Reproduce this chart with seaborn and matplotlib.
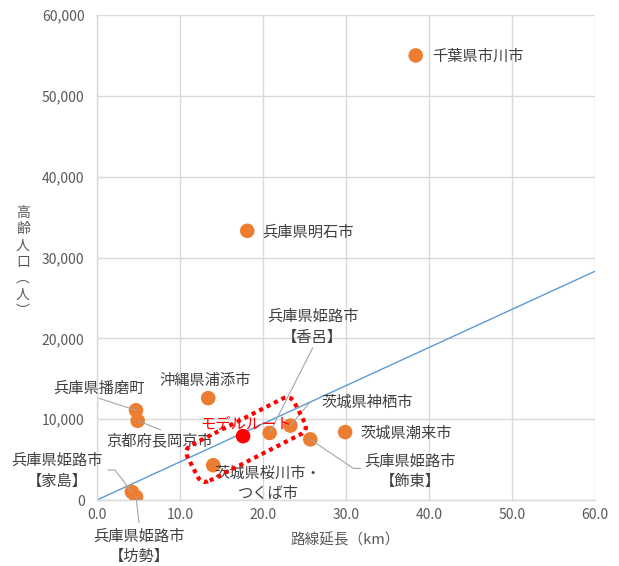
import matplotlib
matplotlib.use("Agg")
import numpy as np
import pandas as pd
import seaborn as sns
import matplotlib.pyplot as plt
from matplotlib.lines import Line2D
from matplotlib.patches import FancyBboxPatch
from matplotlib.transforms import Affine2D, ScaledTranslation

# ---------------- data ----------------
names = ["千葉県市川市", "兵庫県明石市", "沖縄県浦添市", "兵庫県播磨町", "京都府長岡京市",
         "兵庫県姫路市\n【家島】", "兵庫県姫路市\n【坊勢】", "兵庫県姫路市\n【香呂】",
         "茨城県神栖市", "兵庫県姫路市\n【飾東】", "茨城県潮来市", "茨城県桜川市・\nつくば市"]
route_km = [38.4, 18.1, 13.4, 4.7, 4.9, 4.2, 4.7, 20.8, 23.3, 25.7, 29.9, 14.0]
elderly = [55000, 33300, 12600, 11100, 9800, 1000, 400, 8300, 9200, 7500, 8400, 4300]

model_name = "モデルルート"
model_km = [17.6]
model_elderly = [7900]

trend_km = [0.0, 60.0]
trend_elderly = [0, 28300]

x_ticks = [0, 10, 20, 30, 40, 50, 60]
x_tick_labels = ["0.0", "10.0", "20.0", "30.0", "40.0", "50.0", "60.0"]
y_ticks = [0, 10000, 20000, 30000, 40000, 50000, 60000]
y_tick_labels = ["0", "10,000", "20,000", "30,000", "40,000", "50,000", "60,000"]

x_title = "路線延長（km）"
y_title = "高齢人口（人）"

df = pd.DataFrame({"name": names, "km": route_km, "elderly": elderly})
df_model = pd.DataFrame({"name": [model_name], "km": model_km, "elderly": model_elderly})

# ---------------- style ----------------
sns.set_theme(style="white")
plt.rcParams["font.family"] = ["Noto Sans CJK JP", "DejaVu Sans"]

W, H, DPI = 619, 566, 100
fig = plt.figure(figsize=(W / DPI, H / DPI), dpi=DPI)
ax = fig.add_axes([97 / W, 1 - 500 / H, (595 - 97) / W, (500 - 15) / H])

grid_c = "#d9d9d9"
text_c = "#404040"
tick_c = "#595959"
lead_c = "#a6a6a6"

ax.set_xlim(0, 60)
ax.set_ylim(0, 60000)
ax.set_xticks(x_ticks)
ax.set_xticklabels(x_tick_labels)
ax.set_yticks(y_ticks)
ax.set_yticklabels(y_tick_labels)
ax.grid(True, color=grid_c, lw=1.0)
ax.set_axisbelow(True)
for s in ["top", "right"]:
    ax.spines[s].set_visible(False)
for s in ["left", "bottom"]:
    ax.spines[s].set_color(grid_c)
    ax.spines[s].set_linewidth(1.0)
ax.tick_params(axis="both", length=0, labelsize=10, colors=tick_c)
ax.tick_params(axis="x", pad=6)
ax.tick_params(axis="y", pad=9)

# trend line
ax.plot(trend_km, trend_elderly, color="#5B9BD5", lw=1.0, zorder=2)

# points
sns.scatterplot(data=df, x="km", y="elderly", ax=ax, color="#ED7D31", s=110,
                edgecolor="none", zorder=3, legend=False)
sns.scatterplot(data=df_model, x="km", y="elderly", ax=ax, color="#FF0000", s=110,
                edgecolor="none", zorder=3, legend=False)

ax.set_xlabel("")
ax.set_ylabel("")

# ---------------- labels (offsets in pixels relative to each point) ----------------
label_layout = {
    "千葉県市川市": ((16, -1), "left", []),
    "兵庫県明石市": ((15, -1), "left", []),
    "沖縄県浦添市": ((-3, 18), "center", []),
    "兵庫県播磨町": ((-37, 22), "center", [[(-37, 12), (0, 0)]]),
    "京都府長岡京市": ((22, -20), "center", [[(23, -9), (0, 0)]]),
    "兵庫県姫路市\n【家島】": ((-75, 21), "center", [[(-24, 22), (-17, 22), (0, 0)]]),
    "兵庫県姫路市\n【坊勢】": ((3, -50), "center", [[(3, -26), (0, 0)]]),
    "兵庫県姫路市\n【香呂】": ((43, 106), "center", [[(43, 85), (0, 0)]]),
    "茨城県神栖市": ((77, 23), "center", [[(20, 24), (0, 0)]]),
    "兵庫県姫路市\n【飾東】": ((100, -32), "center", [[(0, 0), (43, -29), (50, -29)]]),
    "茨城県潮来市": ((15, -1), "left", []),
    "茨城県桜川市・\nつくば市": ((55, -18), "center", []),
}

for nm, xv, yv in zip(names, route_km, elderly):
    (dx, dy), ha, leaders = label_layout[nm]
    tr = ScaledTranslation(xv, yv, ax.transData)
    for seg in leaders:
        xs = [p[0] for p in seg]
        ys = [p[1] for p in seg]
        ln = Line2D(xs, ys, color=lead_c, lw=0.8, transform=tr, zorder=4, clip_on=False)
        ax.add_line(ln)
    ax.text(dx, dy, nm, transform=tr, ha=ha, va="center", fontsize=11,
            color=text_c, linespacing=1.25, zorder=5, clip_on=False)

# model route label
tr_m = ScaledTranslation(model_km[0], model_elderly[0], ax.transData)
ax.text(3, 13, model_name, transform=tr_m, ha="center", va="center", fontsize=11,
        color="#FF0000", zorder=5)

# dotted rounded box around the model-route group
bw, bh = 120, 40
box = FancyBboxPatch((-bw / 2, -bh / 2), bw, bh,
                     boxstyle="round,pad=0,rounding_size=9", fill=False,
                     edgecolor="#FF0000", linewidth=3.0, linestyle=(0, (1, 1)),
                     transform=Affine2D().rotate_deg(27).translate(3, -3.5) + tr_m,
                     zorder=6, clip_on=False)
ax.add_patch(box)

# axis titles
fig.text(345 / W, 1 - 540 / H, x_title, ha="center", va="center", fontsize=10.5, color=tick_c)
fig.text(23 / W, 1 - 262 / H, "\n".join(["高", "齢", "人", "口", "︵", "人", "︶"]),
         ha="center", va="center", fontsize=10, color=tick_c, linespacing=1.22)

fig.savefig("out.png", dpi=DPI)
